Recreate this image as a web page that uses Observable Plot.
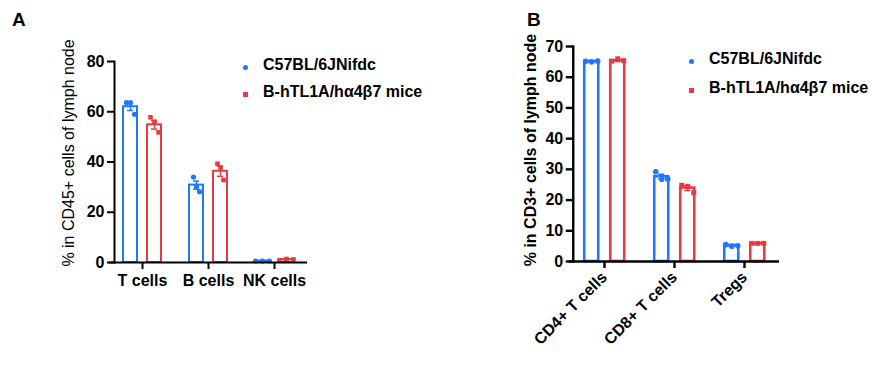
<!DOCTYPE html>
<html>
<head>
<meta charset="utf-8">
<script src="https://cdn.jsdelivr.net/npm/d3@7"></script>
<script src="https://cdn.jsdelivr.net/npm/@observablehq/plot@0.6"></script>
<style>
  html, body { margin: 0; padding: 0; background: #fff; }
  #wrap { position: relative; width: 880px; height: 368px; overflow: hidden; font-family: "Liberation Sans", Arial, sans-serif; color: #000; }
  .panel { position: absolute; top: 0; width: 440px; height: 368px; }
  .panel svg { width: 440px !important; height: 368px !important; max-width: none !important; }
  .lbl { position: absolute; white-space: nowrap; }
  .ylab { position: absolute; white-space: nowrap; font-size: 16px; transform: translate(-50%, -50%) rotate(-90deg); }
  .leg { position: absolute; font-size: 16px; font-weight: bold; white-space: nowrap; }
  .leg .sw { position: absolute; }
</style>
</head>
<body>
<div id="wrap">
  <div class="panel" id="pa" style="left:0px"></div>
  <div class="panel" id="pb" style="left:440px"></div>
  <div class="lbl" style="left:12px; top:9px; font-size:19px; font-weight:bold;">A</div>
  <div class="lbl" style="left:527px; top:9px; font-size:19px; font-weight:bold;">B</div>
  <div class="ylab" style="left:69px; top:153px; font-weight:normal;">% in CD45+ cells of lymph node</div>
  <div class="ylab" style="left:531px; top:150px; font-weight:bold;">% in CD3+ cells of lymph node</div>
  <div id="legA"></div>
  <div id="legB"></div>
</div>
<script>
// ---- data ----
const groups = ["C57BL/6JNifdc", "B-hTL1A/hα4β7 mice"];
const colors = ["#1f78ff", "#e83a3f"];

const catsA = ["T cells", "B cells", "NK cells"];
const meanA_wt = [62.0, 30.8, 0.6];
const semA_wt  = [1.5, 1.6, 0.05];
const meanA_tg = [54.8, 36.3, 1.2];
const semA_tg  = [1.7, 2.0, 0.15];
const ptsA_wt = [[63.6, 63.6, 59.0], [34.0, 30.1, 28.2], [0.6, 0.6, 0.6]];
const ptsA_tg = [[57.8, 56.0, 51.8], [39.3, 37.8, 32.8], [0.9, 1.4, 1.2]];
const ticksA = [0, 20, 40, 60, 80];

const catsB = ["CD4+ T cells", "CD8+ T cells", "Tregs"];
const meanB_wt = [65.1, 27.6, 5.2];
const semB_wt  = [0.2, 0.8, 0.2];
const meanB_tg = [65.4, 23.9, 5.8];
const semB_tg  = [0.3, 0.8, 0.1];
const ptsB_wt = [[65.2, 65.0, 65.3], [29.2, 26.8, 26.9], [5.5, 5.0, 5.1]];
const ptsB_tg = [[65.2, 66.0, 65.4], [24.8, 24.5, 22.4], [5.9, 5.9, 5.9]];
const ticksB = [0, 10, 20, 30, 40, 50, 60, 70];

// ---- build tables ----
function rows(cats, means, sems) {
  return cats.flatMap((c, i) => groups.map((g, j) => ({cat: c, group: g, mean: means[j][i], sem: sems[j][i]})));
}
function points(cats, pts) {
  return cats.flatMap((c, i) => groups.flatMap((g, j) => pts[j][i].map((v, k) => ({cat: c, group: g, v, rep: k}))));
}

function panel({cats, data, pts, ymax, ticks, mt, mb, ml, mr, axisShift, pInner, pOuter, barSW, axisSW, rotate, spread, r}) {
  const dotMarks = cats.flatMap((c, ci) => [0, 1, 2].map(k => Plot.dot(pts.filter(d => d.rep === k && d.cat === c), {
    fx: "cat", x: "group", y: "v", fill: "group", symbol: "group", r, dx: (k - 1) * spread[ci]
  })));
  return Plot.plot({
    width: 440, height: 368,
    marginTop: mt, marginBottom: mb, marginLeft: ml, marginRight: mr,
    style: {fontFamily: "'Liberation Sans', Arial, sans-serif", fontSize: "16px", fontWeight: "bold", color: "#000", background: "transparent", overflow: "visible"},
    fx: {domain: cats, padding: 0, label: null},
    x: {type: "band", domain: groups, paddingInner: pInner, paddingOuter: pOuter, axis: null},
    y: {domain: [0, ymax], label: null},
    color: {domain: groups, range: colors},
    symbol: {domain: groups, range: ["circle", "square"]},
    marks: [
      Plot.barY(data, {fx: "cat", x: "group", y: "mean", fill: "white", stroke: "group", strokeWidth: barSW}),
      Plot.ruleX(data, {fx: "cat", x: "group", y1: d => d.mean - d.sem, y2: d => d.mean + d.sem, stroke: "group", strokeWidth: 1.5}),
      Plot.tickY(data, {fx: "cat", x: "group", y: d => d.mean + d.sem, stroke: "group", strokeWidth: 1.5, insetLeft: 4, insetRight: 4}),
      Plot.tickY(data, {fx: "cat", x: "group", y: d => d.mean - d.sem, stroke: "group", strokeWidth: 1.5, insetLeft: 4, insetRight: 4}),
      ...dotMarks,
      Plot.ruleY([0], {stroke: "#000", strokeWidth: axisSW}),
      Plot.frame({anchor: "left", facetAnchor: "left", stroke: "#000", strokeWidth: axisSW, dx: axisShift}),
      Plot.axisY({ticks, tickSize: 7, tickPadding: 3, strokeWidth: axisSW, label: null, fontSize: 16, fontWeight: "bold", dx: axisShift}),
      Plot.axisFx({anchor: "bottom", tickSize: 7, tickPadding: rotate ? 6 : 5, tickRotate: rotate, strokeWidth: axisSW, label: null, fontSize: 16, fontWeight: "bold"})
    ]
  });
}

const A = panel({
  cats: catsA, data: rows(catsA, [meanA_wt, meanA_tg], [semA_wt, semA_tg]), pts: points(catsA, [ptsA_wt, ptsA_tg]),
  ymax: 80, ticks: ticksA, mt: 61, mb: 106, ml: 108, mr: 133, axisShift: 5, pInner: 0.4, pOuter: 0.57,
  barSW: 2, axisSW: 2, rotate: 0, spread: [4, 3, 7], r: 2.6
});
const B = panel({
  cats: catsB, data: rows(catsB, [meanB_wt, meanB_tg], [semB_wt, semB_tg]), pts: points(catsB, [ptsB_wt, ptsB_tg]),
  ymax: 70, ticks: ticksB, mt: 46, mb: 107, ml: 128.75, mr: 100, axisShift: 3.75, pInner: 0.46, pOuter: 0.57,
  barSW: 2.6, axisSW: 2.4, rotate: -45, spread: [6, 6, 6], r: 2.8
});
document.getElementById("pa").appendChild(A);
document.getElementById("pb").appendChild(B);

// ---- legends ----
function legend(el, x, ys) {
  groups.forEach((g, j) => {
    const d = document.createElement("div");
    d.className = "leg";
    d.style.left = (x + 20) + "px";
    d.style.top = (ys[j] - 10) + "px";
    d.textContent = g;
    const s = document.createElement("div");
    s.className = "sw";
    const sz = 5;
    s.style.width = sz + "px"; s.style.height = sz + "px";
    s.style.left = (-20 - sz / 2 + 2) + "px";
    s.style.top = (10 - sz / 2 + 1) + "px";
    s.style.background = colors[j];
    s.style.borderRadius = j === 0 ? "50%" : "0";
    d.appendChild(s);
    el.appendChild(d);
  });
}
legend(document.getElementById("legA"), 243, [66, 93]);
legend(document.getElementById("legB"), 689, [60, 89]);
</script>
</body>
</html>
